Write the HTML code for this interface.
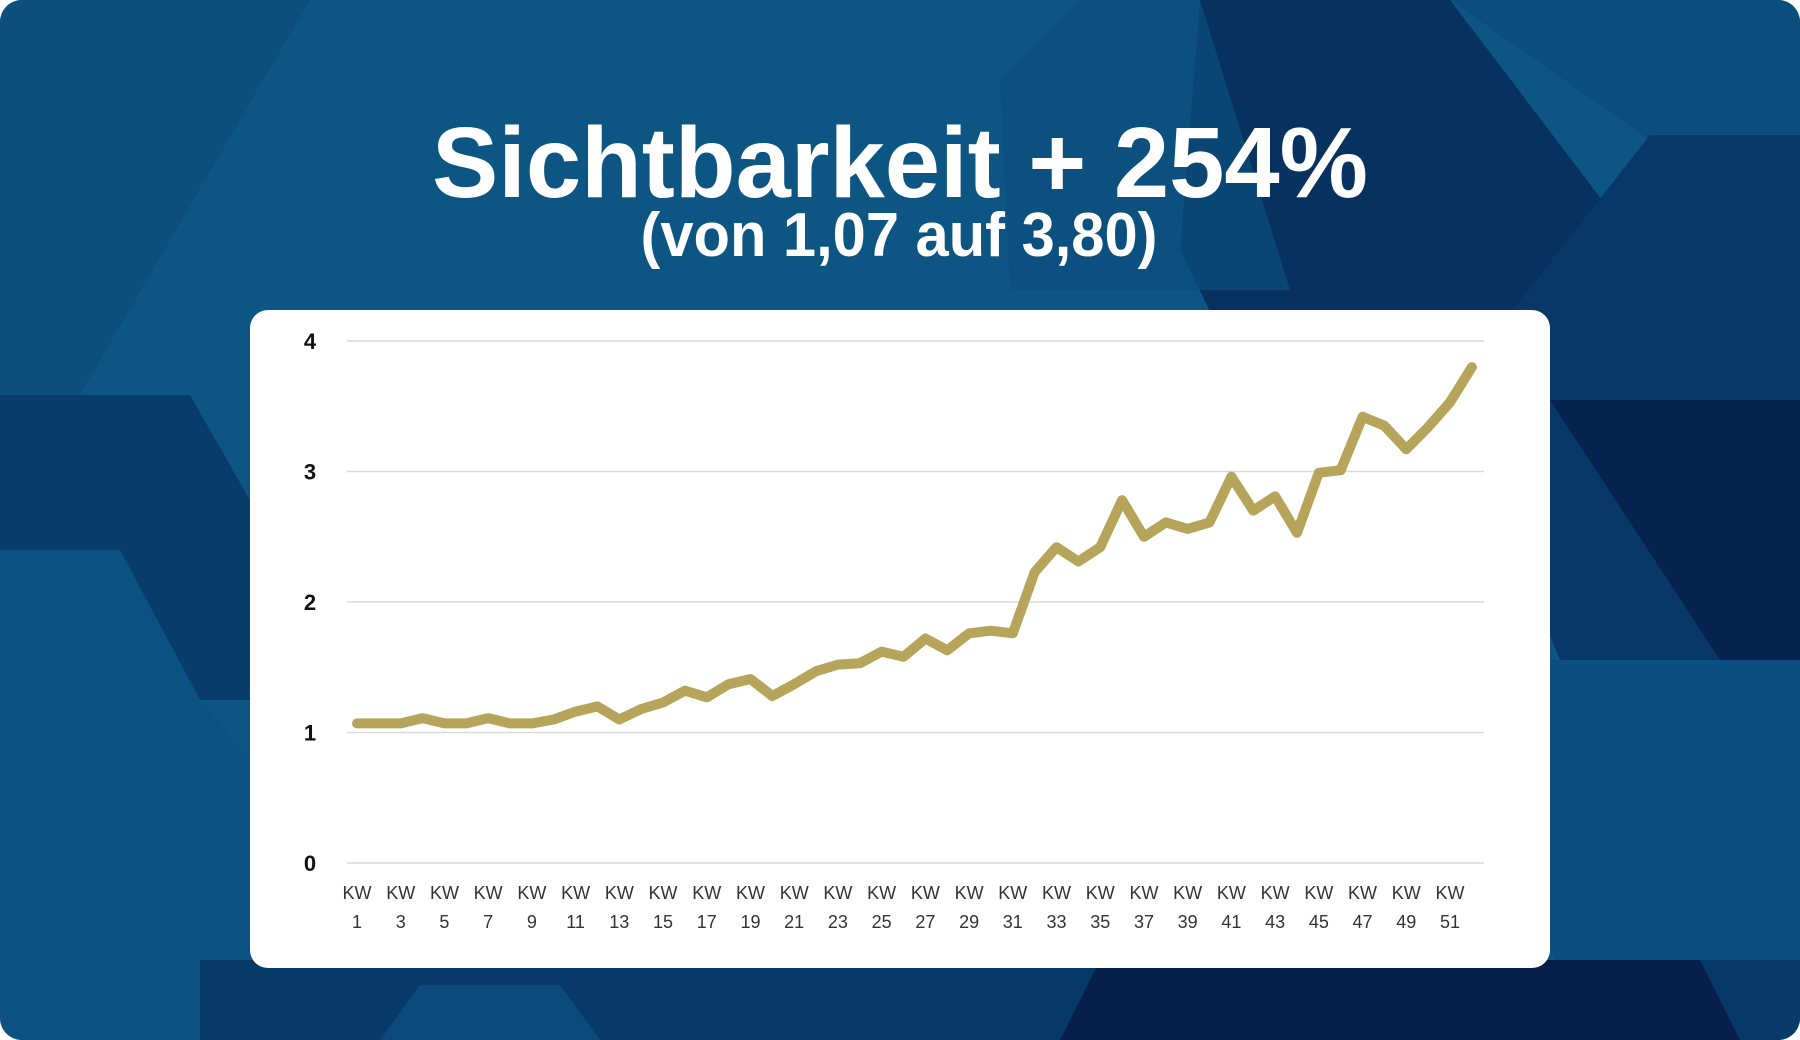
<!DOCTYPE html>
<html><head><meta charset="utf-8"><style>
html,body{margin:0;padding:0;width:1800px;height:1040px;overflow:hidden;background:#fff}
svg{display:block}
</style></head><body>
<svg width="1800" height="1040" viewBox="0 0 1800 1040">
<defs><clipPath id="rc"><rect x="0" y="0" width="1800" height="1040" rx="22"/></clipPath></defs>
<g clip-path="url(#rc)">
<rect width="1800" height="1040" fill="#0d5683"/>
<polygon points="0,0 310,0 80,395 0,395" fill="#0c4f7c"/>
<polygon points="1200,0 1450,0 1640,250 1400,700 1180,250" fill="#07325f"/>
<polygon points="1450,0 1800,0 1800,140 1650,140" fill="#0b4d7d"/>
<polygon points="1650,135 1800,135 1800,660 1560,660 1450,390" fill="#083868"/>
<polygon points="1550,400 1800,400 1800,660 1720,660" fill="#06234f"/>
<polygon points="1550,660 1800,660 1800,1040 1600,1040 1500,860" fill="#0b4f80"/>
<polygon points="0,395 190,395 250,500 250,700 200,700 120,550 0,550" fill="#083c6a"/>
<polygon points="0,550 120,550 200,700 250,760 250,1040 0,1040" fill="#0b5283"/>
<polygon points="200,960 1800,960 1800,1040 200,1040" fill="#083a69"/>
<polygon points="1100,960 1700,960 1740,1040 1060,1040" fill="#051f4a"/>
<polygon points="420,985 560,985 600,1040 380,1040" fill="#0b4a7a"/>
<polygon points="1000,80 1080,0 1200,0 1290,290 1010,290" fill="#0b4e7e" opacity="0.7"/>
</g>
<text x="900" y="197" text-anchor="middle" font-family="Liberation Sans, sans-serif" font-weight="bold" font-size="100" fill="#fff" textLength="936" lengthAdjust="spacingAndGlyphs">Sichtbarkeit + 254%</text>
<text x="899" y="256" text-anchor="middle" font-family="Liberation Sans, sans-serif" font-weight="bold" font-size="62" fill="#fff" textLength="517" lengthAdjust="spacingAndGlyphs">(von 1,07 auf 3,80)</text>
<rect x="250" y="310" width="1300" height="658" rx="18" fill="#fff"/>
<g id="chart"></g>
</svg>
<script>
const weeks = Array.from({length:52},(_,i)=>'KW '+(i+1));
const values = [1.07,1.07,1.07,1.11,1.07,1.07,1.11,1.07,1.07,1.10,1.16,1.20,1.10,1.18,1.23,1.32,1.27,1.37,1.41,1.28,1.37,1.47,1.52,1.53,1.62,1.58,1.72,1.63,1.76,1.78,1.76,2.23,2.42,2.31,2.42,2.78,2.50,2.61,2.56,2.61,2.96,2.70,2.81,2.53,2.99,3.01,3.42,3.35,3.17,3.34,3.53,3.80];
const yTicks = [0,1,2,3,4];
const NS='http://www.w3.org/2000/svg';
const g=document.getElementById('chart');
const X0=357, DX=21.86, Y0=863, PX=130.5;
function xs(i){return X0+i*DX;}
function ys(v){return Y0-v*PX;}
function mk(t,a){const e=document.createElementNS(NS,t);for(const k in a)e.setAttribute(k,a[k]);g.appendChild(e);return e;}
yTicks.forEach(t=>{
  const l=mk('line',{x1:347,x2:1484,y1:ys(t),y2:ys(t),stroke:'#d9d9d9','stroke-width':1.5});
  
  
  const tx=mk('text',{x:310,y:ys(t)+8,'text-anchor':'middle','font-family':'Liberation Sans, sans-serif','font-weight':'bold','font-size':22,fill:'#111'});
  tx.textContent=t;
  
  
});
weeks.forEach((w,i)=>{
  if(i%2)return;
  const p=w.split(' ');
  const t1=mk('text',{x:xs(i),y:899,'text-anchor':'middle','font-family':'Liberation Sans, sans-serif','font-size':18,fill:'#333'});
  t1.textContent=p[0];
  
  
  const t2=mk('text',{x:xs(i),y:928,'text-anchor':'middle','font-family':'Liberation Sans, sans-serif','font-size':18,fill:'#333'});
  t2.textContent=p[1];
  
  
});
const pts=values.map((v,i)=>xs(i).toFixed(1)+','+ys(v).toFixed(1)).join(' ');
const pl=mk('polyline',{points:pts,fill:'none',stroke:'#b5a459','stroke-width':10,'stroke-linejoin':'round','stroke-linecap':'round'});


</script>
</body></html>
